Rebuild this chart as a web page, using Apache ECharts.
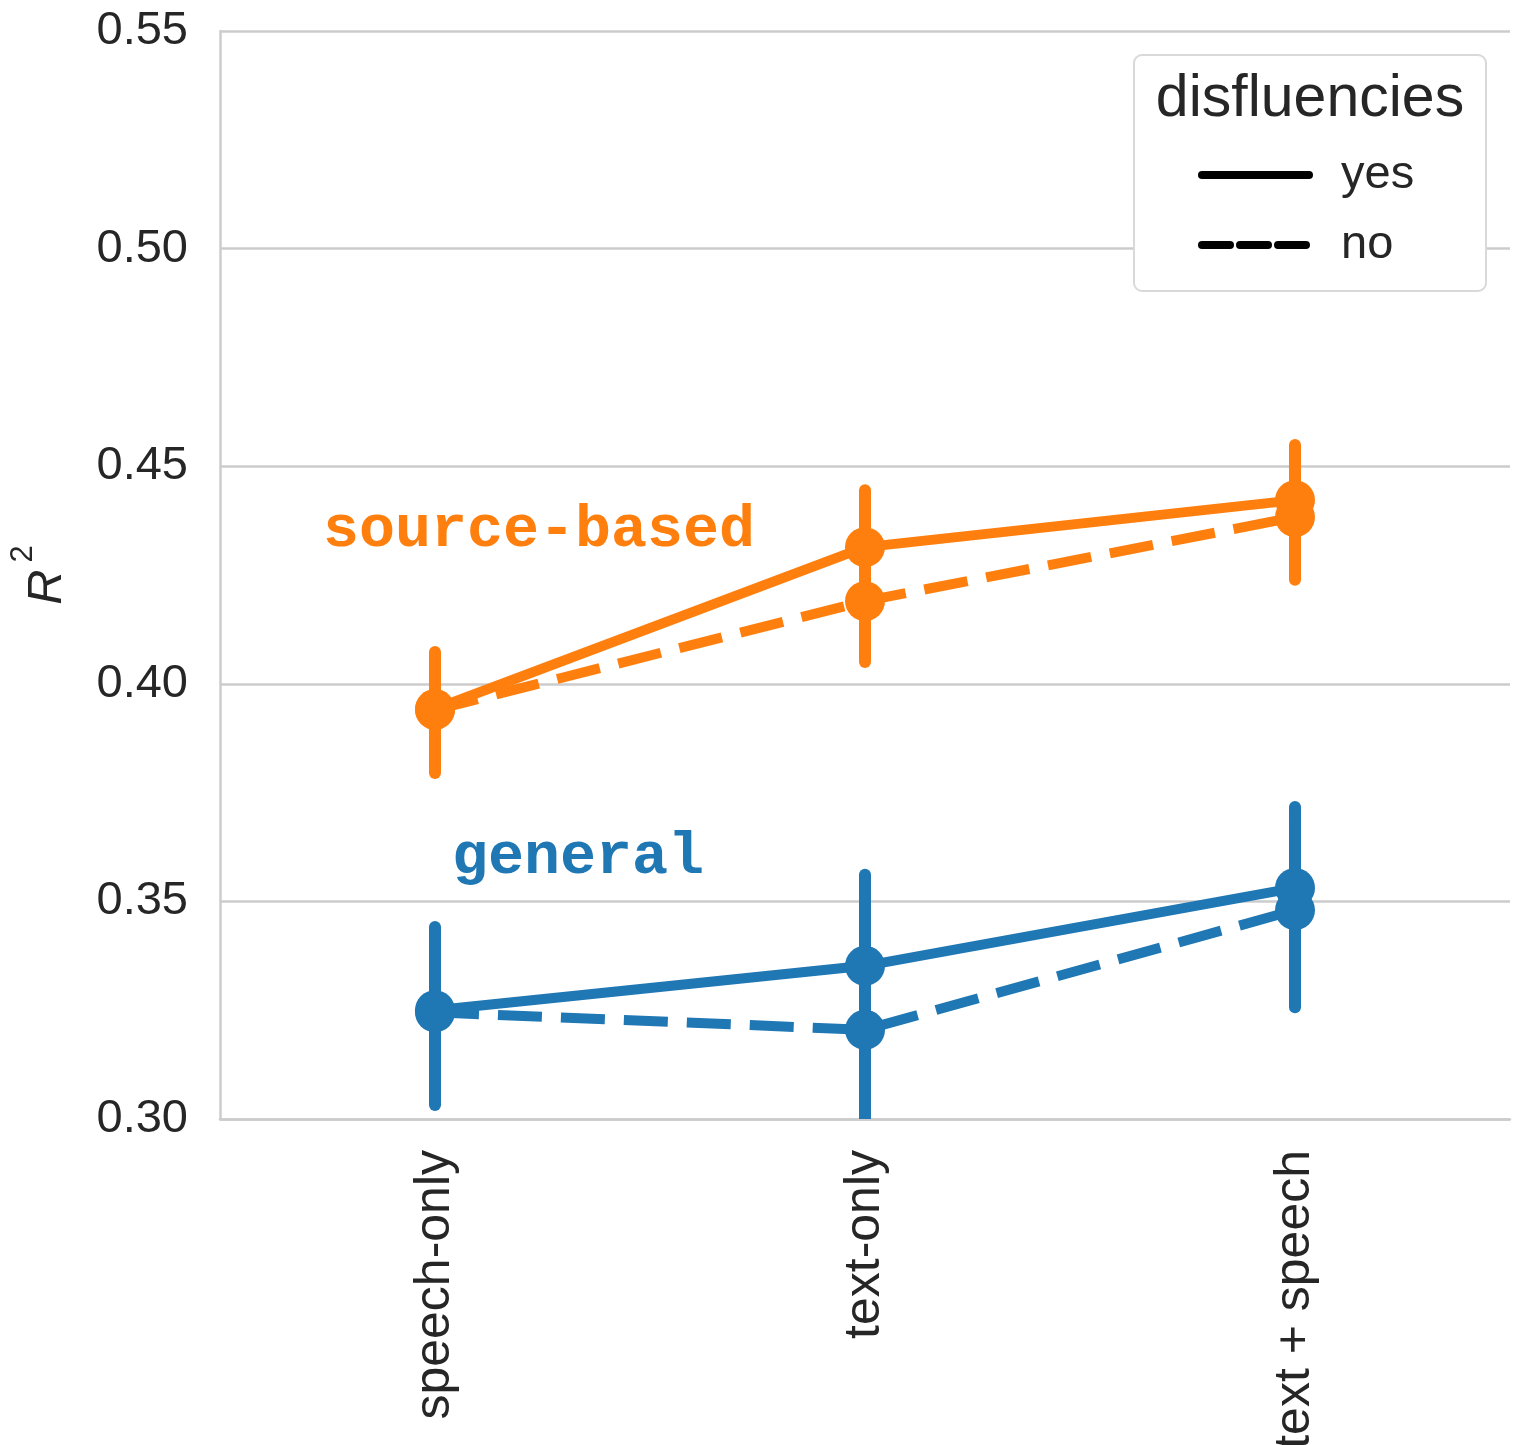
<!DOCTYPE html>
<html>
<head>
<meta charset="utf-8">
<script src="https://cdn.jsdelivr.net/npm/echarts@6/dist/echarts.min.js"></script>
<style>html,body{margin:0;padding:0;background:#fff;}#c{width:1522px;height:1445px;}</style>
</head>
<body>
<div id="c"></div>
<script>
const categories = ['speech-only', 'text-only', 'text + speech'];
const yTicks = [0.30, 0.35, 0.40, 0.45, 0.50, 0.55];

const sourceYes = [0.3942, 0.4314, 0.4422];
const sourceNo = [0.3940, 0.4190, 0.4383];
const generalYes = [0.3250, 0.3352, 0.3531];
const generalNo = [0.3245, 0.3205, 0.3480];

const sourceYesLo = [0.3810, 0.4190, 0.4300];
const sourceYesHi = [0.4073, 0.4445, 0.4549];
const sourceNoLo = [0.3795, 0.4050, 0.4239];
const sourceNoHi = [0.4060, 0.4320, 0.4500];
const generalYesLo = [0.3050, 0.3120, 0.3310];
const generalYesHi = [0.3441, 0.3561, 0.3717];
const generalNoLo = [0.3032, 0.2900, 0.3257];
const generalNoHi = [0.3420, 0.3340, 0.3680];

const ORANGE = '#ff7f0e';
const BLUE = '#1f77b4';
const FONT = 'Liberation Sans, Arial, sans-serif';

function errSeries(lo, hi, color) {
  return {
    type: 'custom',
    clip: true,
    z: 3,
    silent: true,
    data: lo.map((l, i) => [i, l, hi[i]]),
    renderItem: function (params, api) {
      const p1 = api.coord([api.value(0), api.value(1)]);
      const p2 = api.coord([api.value(0), api.value(2)]);
      return {
        type: 'line',
        shape: { x1: p1[0], y1: p1[1], x2: p2[0], y2: p2[1] },
        style: { stroke: color, lineWidth: 12, lineCap: 'round' }
      };
    }
  };
}

function lineSeries(name, data, color, dashed) {
  return {
    type: 'line',
    name: name,
    data: data,
    z: 4,
    symbol: 'circle',
    symbolSize: 40,
    showSymbol: true,
    itemStyle: { color: color },
    lineStyle: { color: color, width: 10, type: dashed ? [44, 19] : 'solid' },
    emphasis: { disabled: true },
    silent: true
  };
}

const chart = echarts.init(document.getElementById('c'));
chart.setOption({
  animation: false,
  backgroundColor: '#fff',
  grid: { left: 220, right: 12, top: 31, bottom: 326, containLabel: false, outerBoundsMode: 'none' },
  xAxis: {
    type: 'category',
    data: categories,
    boundaryGap: true,
    axisLine: { show: true, lineStyle: { color: '#cccccc', width: 2.5 } },
    axisTick: { show: false },
    axisLabel: { rotate: 90, fontSize: 50, fontFamily: FONT, color: '#262626', margin: 31 },
    splitLine: { show: false }
  },
  yAxis: {
    type: 'value',
    min: 0.30,
    max: 0.55,
    interval: 0.05,
    name: '{r|R}{s|2}',
    nameLocation: 'middle',
    nameRotate: 90,
    nameGap: 148,
    nameTextStyle: {
      rich: {
        r: { fontSize: 49, fontStyle: 'italic', fontFamily: FONT, color: '#262626', lineHeight: 64, verticalAlign: 'bottom' },
        s: { fontSize: 31, fontFamily: FONT, color: '#262626', lineHeight: 64, verticalAlign: 'top', padding: [0, 0, 0, 7] }
      }
    },
    axisLine: { show: true, lineStyle: { color: '#cccccc', width: 2.5 } },
    axisTick: { show: false },
    axisLabel: {
      fontSize: 47, fontFamily: FONT, color: '#262626', margin: 32,
      formatter: function (v) {
        const t = yTicks.find(x => Math.abs(x - v) < 1e-9);
        return (t !== undefined ? t : v).toFixed(2);
      }
    },
    splitLine: { show: true, lineStyle: { color: '#cccccc', width: 2.5 } }
  },
  legend: {
    orient: 'vertical',
    left: 1198,
    top: 150,
    padding: 0,
    z: 20,
    selectedMode: false,
    data: ['yes', 'no'],
    itemWidth: 107,
    itemHeight: 20,
    itemGap: 20,
    itemStyle: { color: 'rgba(0,0,0,0)', borderWidth: 0, opacity: 0 },
    lineStyle: { width: 8, color: '#000', cap: 'round' },
    textStyle: { fontSize: 47, fontFamily: FONT, color: '#262626', lineHeight: 50, padding: [0, 0, 0, 27] }
  },
  graphic: [
    {
      type: 'rect', z: 10,
      shape: { x: 1134, y: 55, width: 352, height: 236, r: 8 },
      style: { fill: '#ffffff', stroke: '#d9d9d9', lineWidth: 2 }
    },
    {
      type: 'text', z: 11,
      x: 1310, y: 100,
      style: { text: 'disfluencies', fontSize: 59, fontFamily: FONT, fill: '#262626', align: 'center', verticalAlign: 'middle' }
    },
    {
      type: 'text', z: 11,
      x: 323, y: 531,
      style: { text: 'source-based', fontSize: 60, fontWeight: 'bold', fontFamily: 'Liberation Mono, Courier New, monospace', fill: ORANGE, align: 'left', verticalAlign: 'middle' }
    },
    {
      type: 'text', z: 11,
      x: 452, y: 858,
      style: { text: 'general', fontSize: 60, fontWeight: 'bold', fontFamily: 'Liberation Mono, Courier New, monospace', fill: BLUE, align: 'left', verticalAlign: 'middle' }
    }
  ],
  series: [
    errSeries(sourceYesLo, sourceYesHi, ORANGE),
    errSeries(sourceNoLo, sourceNoHi, ORANGE),
    errSeries(generalYesLo, generalYesHi, BLUE),
    errSeries(generalNoLo, generalNoHi, BLUE),
    lineSeries('source-based yes', sourceYes, ORANGE, false),
    lineSeries('source-based no', sourceNo, ORANGE, true),
    lineSeries('general yes', generalYes, BLUE, false),
    lineSeries('general no', generalNo, BLUE, true),
    { type: 'line', name: 'yes', data: [], symbol: 'none', showSymbol: false, itemStyle: { color: '#000' }, lineStyle: { color: '#000', width: 8, type: 'solid', cap: 'round' } },
    { type: 'line', name: 'no', data: [], symbol: 'none', showSymbol: false, itemStyle: { color: '#000' }, lineStyle: { color: '#000', width: 8, type: [28, 10] } }
  ]
});
</script>
</body>
</html>
